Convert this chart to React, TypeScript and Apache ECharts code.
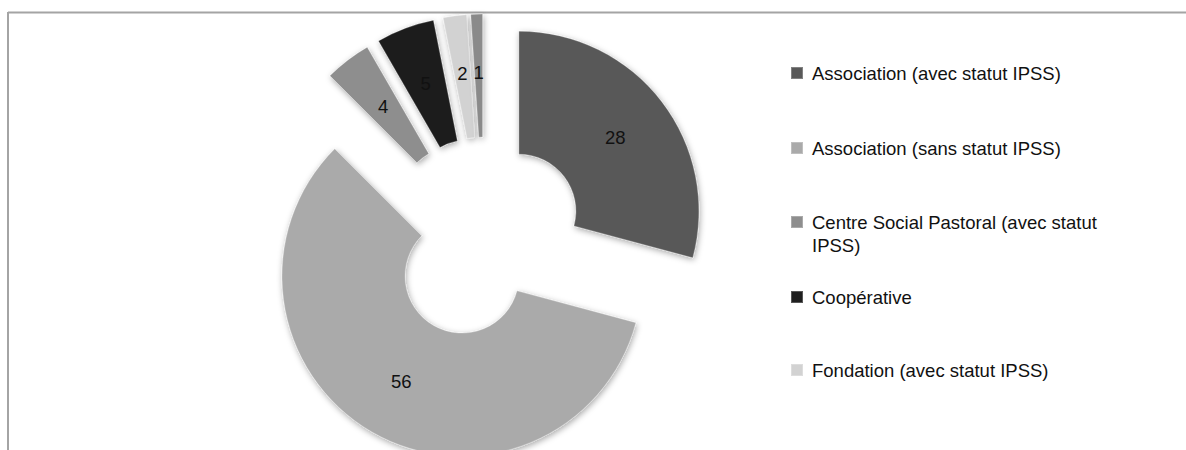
import React, { useEffect, useRef } from "react";
import * as echarts from "echarts";

const categories = [
  "Association (avec statut IPSS)",
  "Association (sans statut IPSS)",
  "Centre Social Pastoral (avec statut IPSS)",
  "Coopérative",
  "Fondation (avec statut IPSS)",
  "Fondation (sans statut IPSS)",
];
const values = [28, 56, 4, 5, 2, 1];
const colors = ["#595959", "#aaaaaa", "#8e8e8e", "#1f1f1f", "#d2d2d2", "#8a8a8a"];
const legendNames = categories.slice(0, 5);
const legendCenters = [73, 148, 222, 297, 370];

const FONT = "'Liberation Sans', Arial, Helvetica, sans-serif";
const LH = 23;

export default function App() {
  const ref = useRef<HTMLDivElement>(null);
  useEffect(() => {
    if (!ref.current) return;
    const chart = echarts.init(ref.current, undefined, { renderer: "svg" });
    const legends = legendNames.map((name, i) => {
      const wrapped = i === 2;
      return {
        orient: "vertical",
        left: 790,
        top: wrapped ? legendCenters[i] - (LH * 3) / 2 : legendCenters[i] - LH / 2,
        padding: 0,
        icon: "rect",
        itemWidth: 12,
        itemHeight: 12,
        selectedMode: false,
        data: [name],
        formatter: (n: string) =>
          n === "Centre Social Pastoral (avec statut IPSS)"
            ? " \nCentre Social Pastoral (avec statut\nIPSS)"
            : n,
        textStyle: {
          fontFamily: FONT,
          fontSize: 18.5,
          color: "#111",
          lineHeight: LH,
          padding: [0, 0, 0, 4],
        },
      };
    });
    chart.setOption({
      animation: false,
      backgroundColor: "#ffffff",
      color: colors,
      legend: legends,
      graphic: [
        {
          type: "line",
          shape: { x1: 8, y1: 12.5, x2: 1186, y2: 12.5 },
          style: { stroke: "#a4a4a4", lineWidth: 2 },
          z: -1,
        },
        {
          type: "line",
          shape: { x1: 8, y1: 12, x2: 8, y2: 450 },
          style: { stroke: "#a4a4a4", lineWidth: 2 },
          z: -1,
        },
      ],
      series: [
        {
          type: "pie",
          center: [484, 238],
          radius: [57, 180],
          startAngle: 90,
          clockwise: true,
          selectedMode: "multiple",
          selectedOffset: 44,
          avoidLabelOverlap: false,
          label: {
            show: true,
            position: "inside",
            formatter: "{c}",
            fontFamily: FONT,
            fontSize: 18.5,
            color: "#111",
          },
          labelLine: { show: false },
          itemStyle: {
            shadowBlur: 6,
            shadowColor: "rgba(0,0,0,0.35)",
            shadowOffsetX: 1,
            shadowOffsetY: 2,
            borderColor: "rgba(255,255,255,0.25)",
            borderWidth: 1,
          },
          emphasis: { disabled: true },
          data: categories.map((name, i) => ({
            name,
            value: values[i],
            selected: true,
          })),
        },
      ],
    });
    return () => chart.dispose();
  }, []);
  return (
    <div
      ref={ref}
      style={{ position: "fixed", left: 0, top: 0, width: 1186, height: 450 }}
    />
  );
}
